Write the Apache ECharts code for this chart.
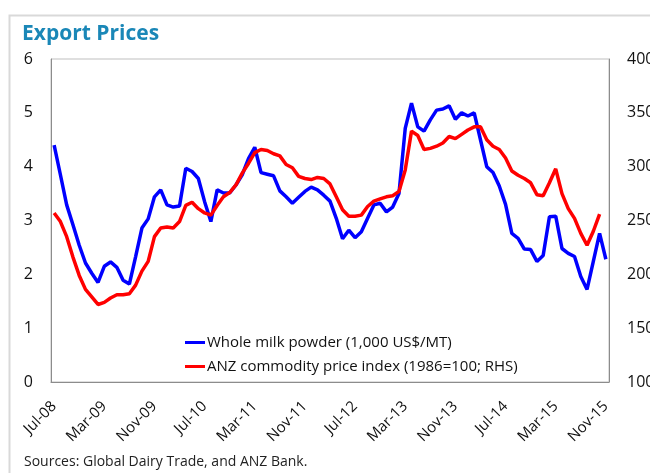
<!DOCTYPE html>
<html>
<head>
<meta charset="utf-8">
<script src="https://cdn.jsdelivr.net/npm/echarts@6/dist/echarts.min.js"></script>
<style>
html,body{margin:0;padding:0;background:#fff;}
#chart{width:650px;height:473px;}
</style>
</head>
<body>
<div id="chart"></div>
<script>
var categories = [
 'Jul-08','Aug-08','Sep-08','Oct-08','Nov-08','Dec-08',
 'Jan-09','Feb-09','Mar-09','Apr-09','May-09','Jun-09','Jul-09','Aug-09','Sep-09','Oct-09','Nov-09','Dec-09',
 'Jan-10','Feb-10','Mar-10','Apr-10','May-10','Jun-10','Jul-10','Aug-10','Sep-10','Oct-10','Nov-10','Dec-10',
 'Jan-11','Feb-11','Mar-11','Apr-11','May-11','Jun-11','Jul-11','Aug-11','Sep-11','Oct-11','Nov-11','Dec-11',
 'Jan-12','Feb-12','Mar-12','Apr-12','May-12','Jun-12','Jul-12','Aug-12','Sep-12','Oct-12','Nov-12','Dec-12',
 'Jan-13','Feb-13','Mar-13','Apr-13','May-13','Jun-13','Jul-13','Aug-13','Sep-13','Oct-13','Nov-13','Dec-13',
 'Jan-14','Feb-14','Mar-14','Apr-14','May-14','Jun-14','Jul-14','Aug-14','Sep-14','Oct-14','Nov-14','Dec-14',
 'Jan-15','Feb-15','Mar-15','Apr-15','May-15','Jun-15','Jul-15','Aug-15','Sep-15','Oct-15','Nov-15'
];

var wholeMilkPowder = [
 4.40,3.85,3.29,2.92,2.54,2.21,
 2.02,1.85,2.15,2.23,2.13,1.89,1.82,2.33,2.86,3.03,3.44,3.57,
 3.29,3.25,3.27,3.97,3.91,3.78,3.35,2.98,3.57,3.51,3.51,3.66,
 3.85,4.15,4.36,3.89,3.86,3.83,3.55,3.44,3.32,3.43,3.54,3.62,
 3.57,3.47,3.36,3.04,2.66,2.82,2.68,2.79,3.04,3.29,3.32,3.16,
 3.25,3.50,4.71,5.18,4.74,4.66,4.87,5.05,5.07,5.13,4.88,5.00,
 4.94,5.00,4.50,4.00,3.89,3.64,3.30,2.76,2.67,2.47,2.46,2.24,
 2.35,3.07,3.08,2.48,2.39,2.33,1.96,1.72,2.24,2.76,2.28
];

var anzCommodityIndex = [
 257,249,235,216,199,186,
 179,172,174,178,181,181,182,190,203,212,235,243,
 244,243,249,264,267,261,257,255,264,272,276,283,
 294,303,313,316,315,312,310,302,299,291,289,288,
 290,289,284,272,260,254,254,255,263,268,270,272,
 273,277,297,333,329,316,317,319,322,328,326,330,
 334,337,337,325,319,316,308,296,292,289,285,274,
 273,285,298,275,261,252,238,227,240,256,null
];

var leftTicks = {min: 0, max: 6, interval: 1};
var rightTicks = {min: 100, max: 400, interval: 50};

var seriesNames = ['Whole milk powder (1,000 US$/MT)', 'ANZ commodity price index (1986=100; RHS)'];

var chart = echarts.init(document.getElementById('chart'), null, {renderer: 'canvas'});
var font = '"Open Sans", "Noto Sans", sans-serif';

chart.setOption({
  animation: false,
  backgroundColor: '#ffffff',
  title: {
    text: 'Export Prices',
    left: 17, top: 19,
    textStyle: {color: '#1a87b7', fontSize: 21, fontWeight: 'bold', fontFamily: font}
  },
  graphic: [
    {type: 'rect', left: 7, top: 13, shape: {width: 700, height: 520},
     style: {fill: 'none', stroke: '#d9d9d9', lineWidth: 2}, silent: true},
    {type: 'text', left: 24, top: 455,
     style: {text: 'Sources: Global Dairy Trade, and ANZ Bank.', fill: '#222', font: '14px "Open Sans", "Noto Sans", sans-serif'}}
  ],
  legend: {
    orient: 'vertical',
    left: 180, top: 330,
    itemWidth: 20, itemHeight: 3, itemGap: 9,
    icon: 'rect',
    textStyle: {fontSize: 15, fontFamily: font, color: '#111', padding: [0,0,0,-3]},
    data: seriesNames
  },
  grid: {
    left: 51, right: 41, top: 59, bottom: 91,
    containLabel: false, outerBoundsMode: 'none',
    show: true, borderColor: '#bfbfbf', borderWidth: 1
  },
  xAxis: {
    type: 'category',
    data: categories,
    boundaryGap: true,
    axisLine: {show: true, lineStyle: {color: '#8c8c8c', width: 1}},
    axisTick: {show: false},
    axisLabel: {interval: 7, rotate: 45, margin: 22, fontSize: 15, fontFamily: font, color: '#111'},
    splitLine: {show: false}
  },
  yAxis: [
    {type: 'value', min: leftTicks.min, max: leftTicks.max, interval: leftTicks.interval,
     axisLine: {show: true, lineStyle: {color: '#8c8c8c'}}, axisTick: {show: false},
     splitLine: {show: false},
     axisLabel: {margin: 18, fontSize: 16, fontFamily: font, color: '#111'}},
    {type: 'value', min: rightTicks.min, max: rightTicks.max, interval: rightTicks.interval,
     position: 'right',
     axisLine: {show: true, lineStyle: {color: '#8c8c8c'}}, axisTick: {show: false},
     splitLine: {show: false},
     axisLabel: {margin: 18, fontSize: 16, fontFamily: font, color: '#111'}}
  ],
  series: [
    {name: seriesNames[0], type: 'line', yAxisIndex: 0, data: wholeMilkPowder,
     showSymbol: false, symbol: 'none', color: '#0000ff',
     lineStyle: {width: 3.5, color: '#0000ff'}, z: 3},
    {name: seriesNames[1], type: 'line', yAxisIndex: 1, data: anzCommodityIndex,
     showSymbol: false, symbol: 'none', color: '#ff0000',
     lineStyle: {width: 3.5, color: '#ff0000'}, z: 4}
  ]
});
</script>
</body>
</html>
